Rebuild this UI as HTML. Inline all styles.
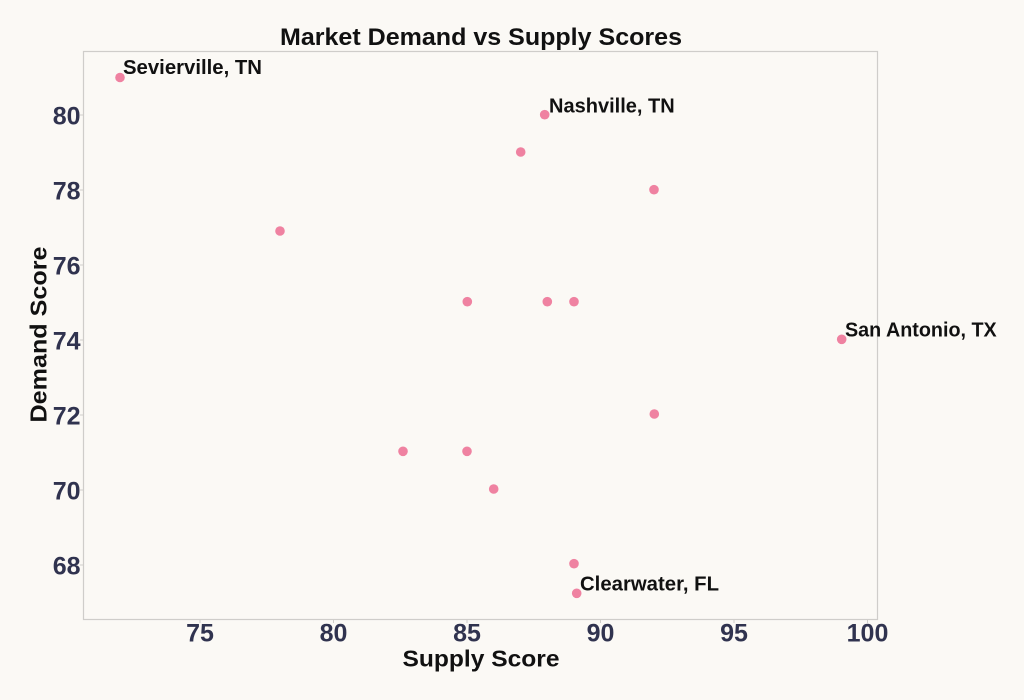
<!DOCTYPE html>
<html>
<head>
<meta charset="utf-8">
<style>
  html, body { margin: 0; padding: 0; background: #fbf9f5; }
  svg { display: block; }
  text { font-family: "Liberation Sans", "DejaVu Sans", sans-serif; }
</style>
</head>
<body>
<svg width="1024" height="700" viewBox="0 0 1024 700" xmlns="http://www.w3.org/2000/svg">
  <rect x="0" y="0" width="1024" height="700" fill="#fbf9f5"/>
  <!-- plot frame -->
  <rect x="83.5" y="51.5" width="794" height="568" fill="none" stroke="#cfcdca" stroke-width="1.2"/>

  <!-- x ticks -->
  <g stroke="#cfcdca" stroke-width="1">
    <line x1="200" y1="619.5" x2="200" y2="623"/>
    <line x1="333.5" y1="619.5" x2="333.5" y2="623"/>
    <line x1="467" y1="619.5" x2="467" y2="623"/>
    <line x1="600.5" y1="619.5" x2="600.5" y2="623"/>
    <line x1="734" y1="619.5" x2="734" y2="623"/>
    <line x1="867.5" y1="619.5" x2="867.5" y2="623"/>
    <line x1="80" y1="115" x2="83.5" y2="115"/>
    <line x1="80" y1="190" x2="83.5" y2="190"/>
    <line x1="80" y1="265" x2="83.5" y2="265"/>
    <line x1="80" y1="340" x2="83.5" y2="340"/>
    <line x1="80" y1="415" x2="83.5" y2="415"/>
    <line x1="80" y1="490" x2="83.5" y2="490"/>
    <line x1="80" y1="565" x2="83.5" y2="565"/>
  </g>

  <!-- x tick labels -->
  <g fill="#30334f" font-size="25" font-weight="bold" text-anchor="middle" style="font-weight:600">
    <text x="200" y="641.5">75</text>
    <text x="333.5" y="641.5">80</text>
    <text x="467" y="641.5">85</text>
    <text x="600.5" y="641.5">90</text>
    <text x="734" y="641.5">95</text>
    <text x="867.5" y="641.5">100</text>
  </g>

  <!-- y tick labels -->
  <g fill="#30334f" font-size="25" text-anchor="end" style="font-weight:600">
    <text x="80.5" y="124.5">80</text>
    <text x="80.5" y="199.5">78</text>
    <text x="80.5" y="274.5">76</text>
    <text x="80.5" y="349.5">74</text>
    <text x="80.5" y="424.5">72</text>
    <text x="80.5" y="499.5">70</text>
    <text x="80.5" y="574.5">68</text>
  </g>

  <!-- title -->
  <text x="280" y="45" font-size="24" font-weight="bold" fill="#111" textLength="402" lengthAdjust="spacingAndGlyphs">Market Demand vs Supply Scores</text>

  <!-- axis titles -->
  <text x="402.5" y="666.5" font-size="23.5" font-weight="bold" fill="#111" textLength="157" lengthAdjust="spacingAndGlyphs">Supply Score</text>
  <text transform="translate(46.5,422.5) rotate(-90)" x="0" y="0" font-size="23.5" font-weight="bold" fill="#111" textLength="176" lengthAdjust="spacingAndGlyphs">Demand Score</text>

  <!-- points -->
  <g fill="#ef82a1">
    <circle cx="120" cy="77.5" r="4.8"/>
    <circle cx="544.7" cy="114.7" r="4.8"/>
    <circle cx="520.7" cy="152" r="4.8"/>
    <circle cx="654" cy="189.7" r="4.8"/>
    <circle cx="280" cy="231" r="4.8"/>
    <circle cx="467.3" cy="301.7" r="4.8"/>
    <circle cx="547.3" cy="301.7" r="4.8"/>
    <circle cx="574" cy="301.7" r="4.8"/>
    <circle cx="841.7" cy="339.3" r="4.8"/>
    <circle cx="654.3" cy="414" r="4.8"/>
    <circle cx="403" cy="451.3" r="4.8"/>
    <circle cx="467" cy="451.3" r="4.8"/>
    <circle cx="493.7" cy="489" r="4.8"/>
    <circle cx="574" cy="563.7" r="4.8"/>
    <circle cx="576.7" cy="593.3" r="4.8"/>
  </g>

  <!-- annotations -->
  <g fill="#111" font-size="20" font-weight="bold" style="font-weight:600">
    <text x="123" y="74" textLength="139" lengthAdjust="spacingAndGlyphs">Sevierville, TN</text>
    <text x="549" y="112.3" textLength="125.7" lengthAdjust="spacingAndGlyphs">Nashville, TN</text>
    <text x="845" y="336.7" textLength="151.7" lengthAdjust="spacingAndGlyphs">San Antonio, TX</text>
    <text x="580" y="590.7" textLength="139" lengthAdjust="spacingAndGlyphs">Clearwater, FL</text>
  </g>
</svg>
</body>
</html>
